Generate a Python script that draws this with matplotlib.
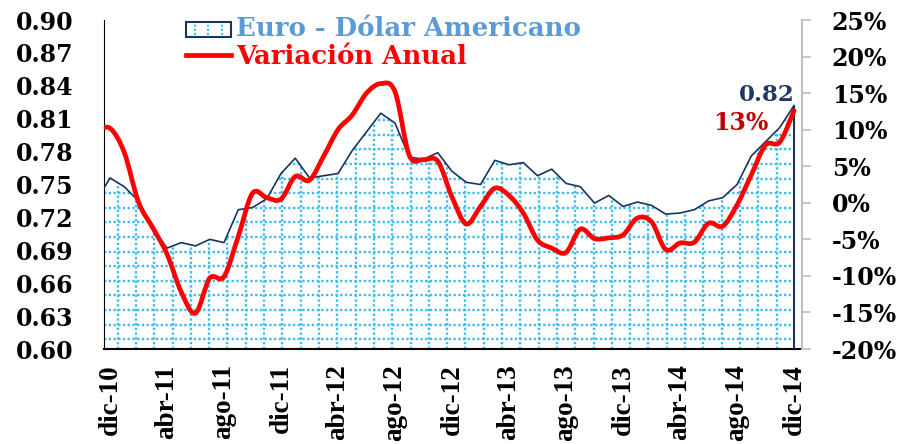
import numpy as np
import matplotlib
matplotlib.use('Agg')
import matplotlib.pyplot as plt
from matplotlib.path import Path
from matplotlib.patches import PathPatch, Rectangle, Patch
from matplotlib.lines import Line2D
from matplotlib.legend_handler import HandlerBase

# Datos mensuales nov-10 ... dic-14 (nov-10 queda fuera del eje)
euro = [0.734, 0.756, 0.748, 0.735, 0.710, 0.692, 0.697, 0.694, 0.700, 0.697,
        0.727, 0.729, 0.737, 0.760, 0.774, 0.756, 0.758, 0.760, 0.781, 0.798,
        0.815, 0.806, 0.775, 0.773, 0.779, 0.762, 0.752, 0.750, 0.772, 0.768,
        0.770, 0.758, 0.764, 0.751, 0.748, 0.733, 0.740, 0.730, 0.734, 0.731,
        0.723, 0.724, 0.727, 0.735, 0.738, 0.750, 0.776, 0.789, 0.802, 0.822]
variacion = [9.8, 10.2, 6.9, 0.1, -3.4, -7.0, -12.2, -15.1, -10.3, -10.1,
             -4.6, 1.3, 0.7, 0.5, 3.6, 3.1, 6.4, 10.0, 12.0, 15.0,
             16.3, 15.2, 6.5, 5.9, 5.7, 0.8, -2.9, -0.5, 2.0, 1.0,
             -1.4, -5.1, -6.2, -6.8, -3.6, -4.9, -4.8, -4.4, -2.1, -2.6,
             -6.4, -5.5, -5.4, -2.8, -3.2, -0.3, 3.8, 7.9, 8.3, 12.6]
etiquetas = ['dic-10', 'abr-11', 'ago-11', 'dic-11', 'abr-12', 'ago-12', 'dic-12',
             'abr-13', 'ago-13', 'dic-13', 'abr-14', 'ago-14', 'dic-14']
y_izq = [0.60, 0.63, 0.66, 0.69, 0.72, 0.75, 0.78, 0.81, 0.84, 0.87, 0.90]
y_der = [-20, -15, -10, -5, 0, 5, 10, 15, 20, 25]

NAVY = '#17365d'
ROJO = '#ff0000'
PUNTOS = '#3dbdf0'

x = np.arange(len(euro)) - 1  # dic-10 = 0


def curva_suave(xs, ys):
    # bezier tipo Excel (catmull-rom)
    n = len(xs)
    verts = [(xs[0], ys[0])]
    codes = [Path.MOVETO]
    for i in range(n - 1):
        xa, ya = (xs[i - 1], ys[i - 1]) if i > 0 else (xs[i], ys[i])
        xb, yb = (xs[i + 2], ys[i + 2]) if i + 2 < n else (xs[i + 1], ys[i + 1])
        c1 = (xs[i] + (xs[i + 1] - xa) / 6, ys[i] + (ys[i + 1] - ya) / 6)
        c2 = (xs[i + 1] - (xb - xs[i]) / 6, ys[i + 1] - (yb - ys[i]) / 6)
        verts += [c1, c2, (xs[i + 1], ys[i + 1])]
        codes += [Path.CURVE4] * 3
    return Path(verts, codes)


class HandlerArea(HandlerBase):
    def create_artists(self, legend, orig, xd, yd, w, h, fs, trans):
        rect = Rectangle((xd, yd), w, h, facecolor='white', edgecolor=NAVY,
                         lw=1.5, transform=trans)
        arts = [rect]
        for f in (0.2, 0.5, 0.8):
            arts.append(Line2D([xd + f * w] * 2, [yd + 1.5, yd + h - 1.5], color=PUNTOS,
                               lw=1.5, ls=(0, (1, 1)), transform=trans))
        return arts


fig = plt.figure(figsize=(9.13, 4.44), dpi=100)
ax = fig.add_axes([104 / 913, 1 - 349 / 444, 698 / 913, 329 / 444])
ax2 = ax.twinx()

# area con cuadricula punteada
area = ax.fill_between(x, euro, 0.60, facecolor='white', edgecolor='none', zorder=1)
clip = area.get_paths()[0]
for f in np.arange(0.0295, 1, 0.0444):
    ln, = ax.plot([0, 1], [f, f], transform=ax.transAxes, color=PUNTOS, lw=1.7,
                  ls=(0, (1, 1)), zorder=2)
    ln.set_clip_path(clip, ax.transData)
for f in np.arange(0.0196, 1, 0.02622):
    ln, = ax.plot([f, f], [0, 1], transform=ax.transAxes, color=PUNTOS, lw=1.7,
                  ls=(0, (1, 1)), zorder=2)
    ln.set_clip_path(clip, ax.transData)
ax.plot(x, euro, color=NAVY, lw=1.2, zorder=3)
ax.vlines(x[-1], 0.60, euro[-1], color=NAVY, lw=1.5, zorder=3)

# variacion anual (linea suavizada)
ax2.add_patch(PathPatch(curva_suave(x, variacion), fill=False, edgecolor=ROJO, lw=3.4,
                        capstyle='round', joinstyle='round'))

ax.set_xlim(-0.42, 48.56)
ax.set_ylim(0.60, 0.90)
ax2.set_ylim(-20, 25)

ax.set_yticks(y_izq)
ax.set_yticklabels([f'{v:.2f}' for v in y_izq])
ax2.set_yticks(y_der)
ax2.set_yticklabels([f'{v}%' for v in y_der])
ax.set_xticks(range(0, 49, 4))
ax.set_xticklabels(etiquetas, rotation=90)

for lab in ax.get_yticklabels() + ax2.get_yticklabels():
    lab.set_fontfamily('DejaVu Serif')
    lab.set_fontweight('bold')
    lab.set_fontsize(17)
for lab in ax.get_xticklabels():
    lab.set_fontfamily('Liberation Serif')
    lab.set_fontweight('bold')
    lab.set_fontsize(19.5)

ax.tick_params(axis='y', length=0, pad=22)
ax.tick_params(axis='x', length=0, pad=11)
ax2.tick_params(axis='y', length=6.5, width=1.2, color='#bfbfbf', pad=15)

for s in ['top', 'right']:
    ax.spines[s].set_visible(False)
for s in ['top', 'left', 'bottom']:
    ax2.spines[s].set_visible(False)
ax.spines['left'].set_color('black')
ax.spines['bottom'].set_color('black')
ax.spines['bottom'].set_linewidth(1.5)
ax2.spines['right'].set_color('#bfbfbf')
ax2.spines['right'].set_linewidth(1.5)

# etiquetas del ultimo dato
ax.annotate(f'{euro[-1]:.2f}', (x[-1], euro[-1]), xytext=(1, 11), textcoords='offset pixels',
            ha='right', va='center', color='#1f3864', fontsize=16.5, fontweight='bold',
            family='DejaVu Serif')
ax2.annotate(f'{variacion[-1]:.0f}%', (x[-1], variacion[-1]), xytext=(-26, -12),
             textcoords='offset pixels', ha='right', va='center', color='#c00000',
             fontsize=17, fontweight='bold', family='DejaVu Serif')

h1 = Patch(label='Euro - Dólar Americano')
h2 = Line2D([], [], color=ROJO, lw=3.4, label='Variación Anual')
leg = ax2.legend([h1, h2], ['Euro - Dólar Americano', 'Variación Anual'],
                 handler_map={Patch: HandlerArea()}, loc='upper left',
                 bbox_to_anchor=(186 / 913, 1 - 16 / 444), bbox_transform=fig.transFigure,
                 frameon=False, borderpad=0, borderaxespad=0, handlelength=1.73,
                 handleheight=0.54, handletextpad=0.2, labelspacing=0.1,
                 prop={'family': 'DejaVu Serif', 'weight': 'bold', 'size': 18.7})
leg.get_texts()[0].set_color('#5b9bd5')
leg.get_texts()[1].set_color(ROJO)

fig.savefig('out.png', dpi=100)
